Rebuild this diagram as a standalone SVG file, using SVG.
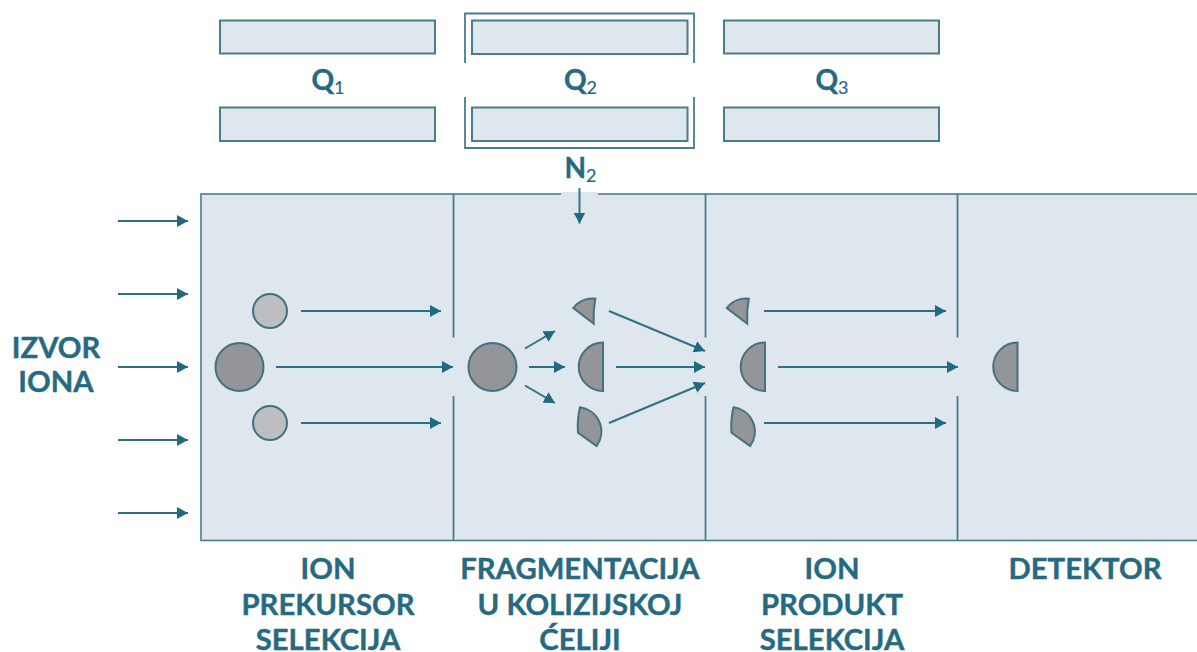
<svg xmlns="http://www.w3.org/2000/svg" width="1197" height="652" viewBox="0 0 1197 652">
<style>
.bar{fill:#dfe7ee;stroke:#4a7c8c;stroke-width:2}
.wall{fill:none;stroke:#4a7c8c;stroke-width:1.8}
.big{fill:#939598;stroke:#45707f;stroke-width:2}
.small{fill:#bcbec0;stroke:#45707f;stroke-width:2}
.ar{fill:none;stroke:#2f6f84;stroke-width:1.9;marker-end:url(#head)}
.lbl{font-family:"Lato","Liberation Sans",sans-serif;font-weight:700;font-size:29.3px;fill:#256a80;stroke:#256a80;stroke-width:.4;text-anchor:middle}
.q{font-size:28px}
.sub{font-size:18px;font-weight:400;stroke-width:.2}
</style>
<defs>
<marker id="head" markerUnits="userSpaceOnUse" markerWidth="12" markerHeight="12" refX="11" refY="6" orient="auto"><path d="M0 0L11 6L0 12Z" fill="#1f6a80"/></marker>
<path id="fragTop" d="M573.3 308A24 24 0 0 1 595.300 298.700Q593 311 593.700 323.700Z"/>
<path id="half" d="M603 342.500A24.250 24.250 0 0 0 603 391Z"/>
<path id="fragBot" d="M580 407.300A24.500 24.500 0 0 1 596.700 446L578 432.700Q577 420 580 407.300Z"/>
</defs>
<g id="q1"><rect class="bar" x="220" y="20.500" width="215" height="33"/><rect class="bar" x="220" y="107.500" width="215" height="33.500"/><text class="lbl q" x="328" y="90">Q<tspan class="sub" dy="4">1</tspan></text></g>
<g id="q2"><rect class="bar" x="472" y="20.500" width="215.500" height="33.500"/><rect class="bar" x="472" y="107.500" width="215.500" height="33.500"/><path class="wall" d="M465 63V13.500H694V63M465 97V148H694V97"/><text class="lbl q" x="580.500" y="90">Q<tspan class="sub" dy="4">2</tspan></text></g>
<g id="q3"><rect class="bar" x="724" y="20.500" width="215" height="33"/><rect class="bar" x="724" y="107.500" width="215" height="33.500"/><text class="lbl q" x="832" y="90">Q<tspan class="sub" dy="4">3</tspan></text></g>
<g id="chamber">
<rect x="201" y="194" width="997" height="346.500" fill="#dfe7ee" stroke="#4a7c8c" stroke-width="1.600"/>
<rect x="561" y="192" width="37" height="4" fill="#dfe7ee"/>
<path class="wall" d="M453.500 194V337.500M453.500 396V540M705.500 194V337.500M705.500 396V540M957.500 194V337.500M957.500 396V540"/>
</g>
<g id="n2"><text class="lbl q" x="580.500" y="178">N<tspan class="sub" dy="4">2</tspan></text></g>
<g id="ion-source"><text class="lbl" x="56" y="358">IZVOR</text><text class="lbl" x="56" y="392">IONA</text></g>
<g id="precursors"><circle class="big" cx="239.500" cy="367" r="24"/><circle class="small" cx="270" cy="311" r="17"/><circle class="small" cx="270" cy="423" r="17"/></g>
<g id="collision"><circle class="big" cx="492.500" cy="367" r="24"/><use href="#fragTop" class="big"/><use href="#half" class="big"/><use href="#fragBot" class="big"/></g>
<g id="products" transform="translate(153.500 0)"><use href="#fragTop" class="big"/><use href="#fragBot" class="big"/></g>
<g id="product-main"><use href="#half" class="big" transform="translate(162 0)"/></g>
<g id="detected"><use href="#half" class="big" transform="translate(414.500 0)"/></g>
<g id="connectors">
<path class="ar" d="M118 221H188"/><path class="ar" d="M118 294H188"/><path class="ar" d="M118 367H188"/><path class="ar" d="M118 440H188"/><path class="ar" d="M118 513H188"/>
<path class="ar" d="M301 311H441"/><path class="ar" d="M276 367H453"/><path class="ar" d="M301 423H441"/>
<path class="ar" d="M525 348.500L555 331"/><path class="ar" d="M529 367H565"/><path class="ar" d="M525 385.500L555 403"/>
<path class="ar" d="M609 311L705 351"/><path class="ar" d="M616 367H705"/><path class="ar" d="M609 423L705 383"/>
<path class="ar" d="M764 311H946"/><path class="ar" d="M778 367H958"/><path class="ar" d="M764 423H946"/>
<path class="ar" d="M579.500 188V223.500"/>
</g>
<g id="labels">
<text class="lbl" x="328" y="579">ION</text><text class="lbl" x="328" y="615">PREKURSOR</text><text class="lbl" x="328" y="650">SELEKCIJA</text>
<text class="lbl" x="580" y="579">FRAGMENTACIJA</text><text class="lbl" x="580" y="615">U KOLIZIJSKOJ</text><text class="lbl" x="580" y="650">ĆELIJI</text>
<text class="lbl" x="832" y="579">ION</text><text class="lbl" x="832" y="615">PRODUKT</text><text class="lbl" x="832" y="650">SELEKCIJA</text>
<text class="lbl" x="1085" y="579">DETEKTOR</text>
</g>
</svg>
